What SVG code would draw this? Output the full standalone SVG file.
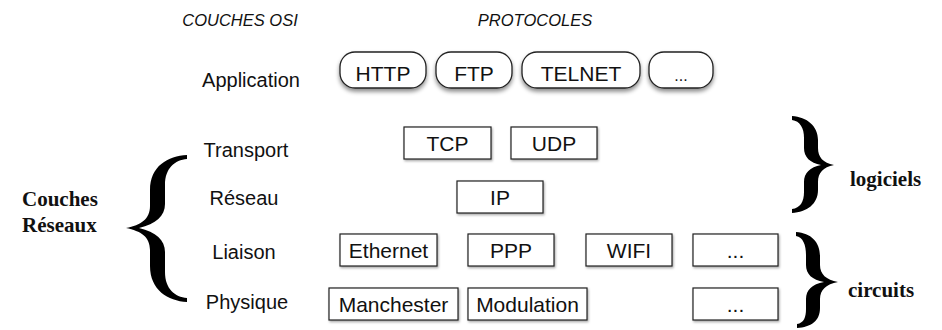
<svg xmlns="http://www.w3.org/2000/svg" width="942" height="330" viewBox="0 0 942 330">
  <style>
    .head { font-family: "Liberation Sans", Arial, sans-serif; font-style: italic; font-size: 16.5px; fill: #111; text-anchor: middle; }
    .layer { font-family: "Liberation Sans", Arial, sans-serif; font-size: 20px; fill: #111; text-anchor: middle; }
    .lbl { font-family: "Liberation Sans", Arial, sans-serif; font-size: 21px; fill: #111; text-anchor: middle; }
    .note { font-family: "Liberation Serif", "Times New Roman", serif; font-weight: bold; font-size: 21px; fill: #111; }
    .pill { fill: #fff; stroke: #222; stroke-width: 1.3; filter: url(#shadow); }
    .box { fill: #fff; stroke: #222; stroke-width: 1.2; filter: url(#shadowSmall); }
    .brace { fill: #000; }
  </style>
  <defs>
    <filter id="shadow" x="-20%" y="-20%" width="140%" height="160%">
      <feDropShadow dx="0" dy="3" stdDeviation="2" flood-color="#000" flood-opacity="0.45"/>
    </filter>
    <filter id="shadowSmall" x="-20%" y="-20%" width="140%" height="160%">
      <feDropShadow dx="1" dy="1.5" stdDeviation="1" flood-color="#000" flood-opacity="0.35"/>
    </filter>
  </defs>
  <rect width="942" height="330" fill="#fff"/>

  <!-- column headings -->
  <text class="head" x="240" y="26">COUCHES OSI</text>
  <text class="head" x="535" y="26">PROTOCOLES</text>

  <!-- OSI layer names -->
  <g id="layers">
    <text class="layer" x="251" y="87">Application</text>
    <text class="layer" x="246" y="157">Transport</text>
    <text class="layer" x="244" y="205">Réseau</text>
    <text class="layer" x="244" y="259">Liaison</text>
    <text class="layer" x="247" y="309">Physique</text>
  </g>

  <!-- application protocols -->
  <g id="http"><rect class="pill" x="340" y="52" width="86" height="36" rx="15"/><text class="lbl" x="383" y="81">HTTP</text></g>
  <g id="ftp"><rect class="pill" x="436" y="52" width="76" height="36" rx="15"/><text class="lbl" x="474" y="81">FTP</text></g>
  <g id="telnet"><rect class="pill" x="522" y="52" width="118" height="36" rx="15"/><text class="lbl" x="581" y="81">TELNET</text></g>
  <g id="app-more"><rect class="pill" x="649" y="52" width="64" height="36" rx="15"/><text class="lbl" x="681" y="81" style="font-size:16px">...</text></g>

  <!-- transport / network -->
  <g id="tcp"><rect class="box" x="404" y="127" width="87" height="32"/><text class="lbl" x="447.5" y="151">TCP</text></g>
  <g id="udp"><rect class="box" x="511" y="127" width="86" height="32"/><text class="lbl" x="554" y="151">UDP</text></g>
  <g id="ip"><rect class="box" x="457" y="181" width="86" height="32"/><text class="lbl" x="500" y="205">IP</text></g>

  <!-- data link -->
  <g id="ethernet"><rect class="box" x="340" y="234" width="97" height="32"/><text class="lbl" x="388.5" y="258">Ethernet</text></g>
  <g id="ppp"><rect class="box" x="468" y="234" width="86" height="32"/><text class="lbl" x="511" y="258">PPP</text></g>
  <g id="wifi"><rect class="box" x="586" y="234" width="86" height="32"/><text class="lbl" x="629" y="258">WIFI</text></g>
  <g id="link-more"><rect class="box" x="693" y="234" width="85" height="32"/><text class="lbl" x="735.5" y="258">...</text></g>

  <!-- physical -->
  <g id="manchester"><rect class="box" x="329" y="288" width="129" height="32"/><text class="lbl" x="393.5" y="312">Manchester</text></g>
  <g id="modulation"><rect class="box" x="468" y="288" width="119" height="32"/><text class="lbl" x="527.5" y="312">Modulation</text></g>
  <g id="phys-more"><rect class="box" x="693" y="288" width="85" height="32"/><text class="lbl" x="735.5" y="312">...</text></g>

  <!-- grouping braces -->
  <g id="braces">
    <path class="brace" d="M187,155 C168,156 150,166 150,190 L150,206 C150,219 141,225 126,228 C141,231 150,237 150,250 L150,266 C150,290 168,301 187,302 L187,298 C175,297 165,289 165,272 L165,252 C165,240 156,232 139,228 C156,224 165,216 165,204 L165,185 C165,168 175,160 187,159 Z"/>
    <path class="brace" d="M792,116 C807,117 818,126 818,140 L818,148 C818,157 823,163 834,165 C823,167 818,173 818,182 L818,190 C818,204 807,212 792,213 L792,209 C800,208 804,202 804,192 L804,182 C804,173 810,167 821,165 C810,163 804,157 804,148 L804,138 C804,128 800,121 792,120 Z"/>
    <path class="brace" d="M796,232 C811,233 820,242 820,256 L820,265 C820,274 826,280 838,282 C826,284 820,290 820,299 L820,308 C820,321 811,327 797,328 L797,324 C804,323 806,317 806,309 L806,299 C806,290 812,284 824,282 C812,280 806,274 806,265 L806,255 C806,245 803,237 796,236 Z"/>
  </g>

  <!-- group captions -->
  <g id="captions">
    <text class="note" x="22" y="206">Couches</text>
    <text class="note" x="22" y="232">Réseaux</text>
    <text class="note" x="850" y="186">logiciels</text>
    <text class="note" x="848" y="297">circuits</text>
  </g>
</svg>
